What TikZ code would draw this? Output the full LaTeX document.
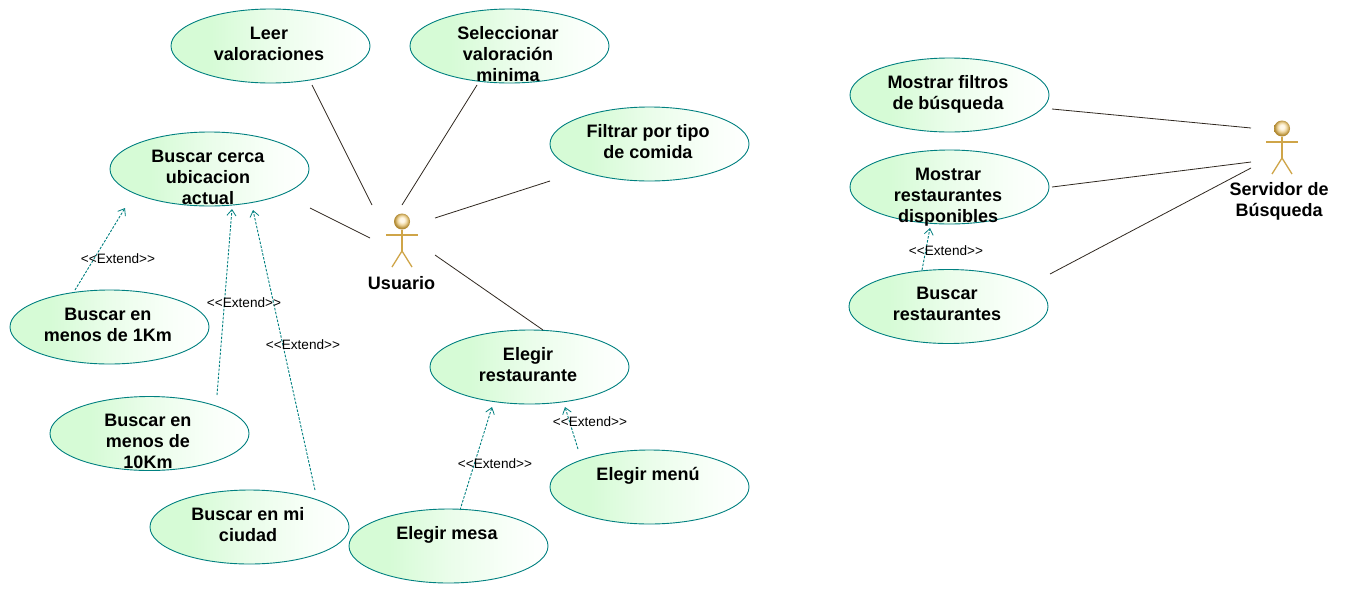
\documentclass[tikz,border=0pt]{standalone}
\usepackage{fontspec}
\setmainfont{Liberation Sans}
\usetikzlibrary{arrows.meta,shapes.geometric}
\definecolor{ucgreen}{HTML}{D6FBD6}
\definecolor{ucmid}{HTML}{EAFDEA}
\definecolor{ucpale}{HTML}{F8FFF8}
\definecolor{teal0}{HTML}{008080}
\definecolor{actor}{HTML}{CFA548}
\definecolor{assocc}{HTML}{302820}
\definecolor{ballA}{HTML}{FFF8E8}
\definecolor{ballB}{HTML}{EBD298}
\definecolor{ballC}{HTML}{B08830}
\pgfdeclarehorizontalshading{ucshade}{100bp}{color(0bp)=(ucgreen); color(27bp)=(ucgreen); color(35bp)=(ucgreen); color(50bp)=(ucmid); color(65bp)=(ucpale); color(75bp)=(white); color(100bp)=(white)}
\pgfdeclareradialshading{actorball}{\pgfpoint{0bp}{6bp}}{color(0bp)=(ballA); color(7bp)=(ballA); color(15bp)=(ballB); color(24bp)=(ballC); color(50bp)=(ballC)}
\tikzset{
  usecase/.style={ellipse,draw=teal0,line width=0.9pt,minimum width=199pt,minimum height=74pt,inner sep=0pt,shading=ucshade},
  uctext/.style={font=\bfseries\fontsize{18}{21}\selectfont,align=center,anchor=north,inner sep=0pt,text=black},
  actorbox/.style={minimum width=32pt,minimum height=56pt,inner sep=0pt},
  actorline/.style={draw=actor,line width=1.3pt},
  actorlabel/.style={font=\bfseries\fontsize{18}{21}\selectfont,align=center,inner sep=0pt},
  assoc/.style={draw=assocc,line width=0.8pt},
  extendline/.style={draw=teal0,line width=0.9pt,dash pattern=on 2.5pt off 1.5pt,-{Straight Barb[length=6pt,width=9pt,line width=0.8pt]}},
  extlabel/.style={font=\fontsize{13.6}{15}\selectfont,inner sep=0pt,text=black},
}
\newcommand{\ucase}[4]{%
  \node[usecase] (#1) at (#2,#3) {};
  \node[uctext] at ([shift={(-1.5pt,-18pt)}]#1.north) {#4};
}
\newcommand{\actorfig}[1]{%
  \draw[actorline] ([yshift=10.5pt]#1.center) -- ([yshift=-11pt]#1.center);
  \draw[actorline] ([shift={(-16pt,5pt)}]#1.center) -- ([shift={(16pt,5pt)}]#1.center);
  \draw[actorline] ([shift={(-10pt,-27pt)}]#1.center) -- ([yshift=-11pt]#1.center) -- ([shift={(10pt,-27pt)}]#1.center);
  \shade[shading=actorball] ([yshift=18.5pt]#1.center) circle (8pt);
}
\begin{document}
\begin{tikzpicture}[x=1pt,y=-1pt]
\useasboundingbox (0,0) rectangle (1359,595);
\fill[white] (0,0) rectangle (1359,595);
\ucase{leer}{270.5}{46}{Leer\\valoraciones}
\ucase{selec}{509.5}{46}{Seleccionar\\valoración\\minima}
\ucase{filtrar}{649.5}{144}{Filtrar por tipo\\de comida}
\ucase{cerca}{209.5}{169}{Buscar cerca\\ubicacion\\actual}
\ucase{unokm}{109.5}{327}{Buscar en\\menos de 1Km}
\ucase{diezkm}{149.5}{433.5}{Buscar en\\menos de\\10Km}
\ucase{ciudad}{249.5}{527}{Buscar en mi\\ciudad}
\ucase{elegir}{529.5}{367}{Elegir\\restaurante}
\ucase{menu}{649.5}{487}{Elegir menú}
\ucase{mesa}{448.5}{546}{Elegir mesa}
\ucase{filtros}{949.5}{95}{Mostrar filtros\\de búsqueda}
\ucase{dispon}{949.5}{187}{Mostrar\\restaurantes\\disponibles}
\ucase{buscar}{948.5}{306.5}{Buscar\\restaurantes}
\node[actorbox] (usuario) at (402,240) {};
\actorfig{usuario}
\node[actorlabel] (usuariolbl) at (401.5,283) {Usuario};
\node[actorbox] (servidor) at (1282,147) {};
\actorfig{servidor}
\node[actorlabel] (servidorlbl) at (1279,201) {Servidor de\\Búsqueda};
% associations
\draw[assoc] ([shift={(41.5pt,-39pt)}]leer.center) -- ([shift={(-30pt,35pt)}]usuario.center);
\draw[assoc] ([shift={(-32.5pt,-39pt)}]selec.center) -- ([shift={(0pt,35pt)}]usuario.center);
\draw[assoc] ([shift={(-99.5pt,-37pt)}]filtrar.center) -- ([shift={(33pt,22pt)}]usuario.center);
\draw[assoc] ([shift={(100.5pt,-39pt)}]cerca.center) -- ([shift={(-32pt,2pt)}]usuario.center);
\draw[assoc] ([shift={(13.5pt,37pt)}]elegir.center) -- ([shift={(33pt,-15pt)}]usuario.center);
\draw[assoc] ([shift={(102.5pt,-14pt)}]filtros.center) -- ([shift={(-31pt,19pt)}]servidor.center);
\draw[assoc] ([shift={(102.5pt,0pt)}]dispon.center) -- ([shift={(-31pt,-15pt)}]servidor.center);
\draw[assoc] ([shift={(101.5pt,32.5pt)}]buscar.center) -- ([shift={(-31pt,-21pt)}]servidor.center);
% extends
\draw[extendline] ([shift={(-34.5pt,37pt)}]unokm.center) -- ([shift={(-84.5pt,-39pt)}]cerca.center);
\draw[extendline] ([shift={(67.5pt,38.5pt)}]diezkm.center) -- ([shift={(22.5pt,-40pt)}]cerca.center);
\draw[extendline] ([shift={(65.5pt,37pt)}]ciudad.center) -- ([shift={(43.5pt,-41pt)}]cerca.center);
\draw[extendline] ([shift={(11.5pt,36pt)}]mesa.center) -- ([shift={(-37.5pt,-40pt)}]elegir.center);
\draw[extendline] ([shift={(-71.5pt,38pt)}]menu.center) -- ([shift={(35.5pt,-40pt)}]elegir.center);
\draw[extendline] ([shift={(-26.5pt,36.5pt)}]buscar.center) -- ([shift={(-19.5pt,-41pt)}]dispon.center);
\node[extlabel] (e1) at (118,258.5) {<{}<Extend>{}>};
\node[extlabel] (e2) at (244,302.5) {<{}<Extend>{}>};
\node[extlabel] (e3) at (303,344.5) {<{}<Extend>{}>};
\node[extlabel] (e4) at (495,463.5) {<{}<Extend>{}>};
\node[extlabel] (e5) at (590,421.5) {<{}<Extend>{}>};
\node[extlabel] (e6) at (946,250.5) {<{}<Extend>{}>};
\end{tikzpicture}
\end{document}
